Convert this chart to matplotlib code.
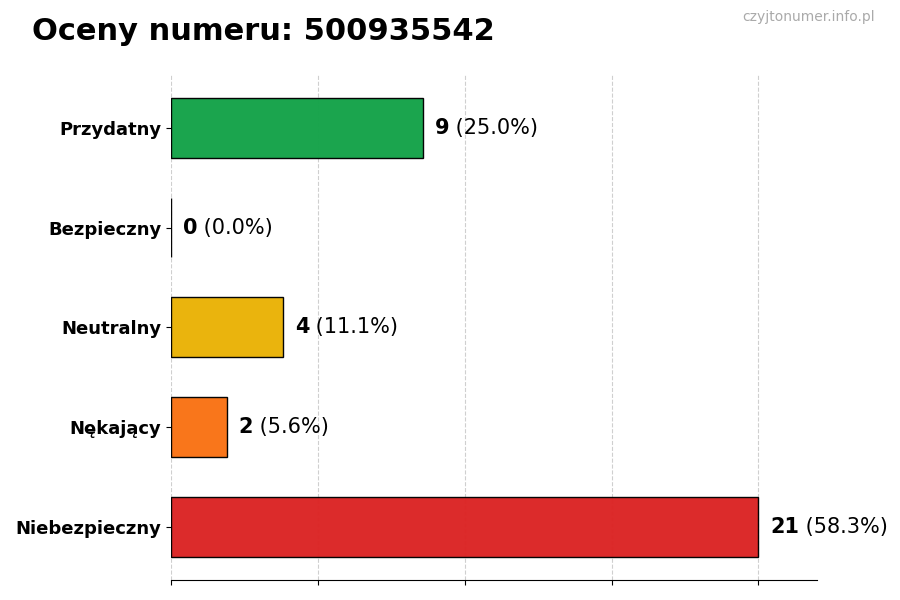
import matplotlib
matplotlib.use("Agg")
import matplotlib.pyplot as plt
import numpy as np

categories = ["Przydatny", "Bezpieczny", "Neutralny", "Nękający", "Niebezpieczny"]
counts = [9, 0, 4, 2, 21]
colors = ["#16a34a", "#15803d", "#eab308", "#f97316", "#dc2626"]
title = "Oceny numeru: 500935542"
watermark = "czyjtonumer.info.pl"

total = sum(counts)
vmax = max(counts)

fig = plt.figure(figsize=(9, 6), dpi=100)
ax = fig.add_axes([0.19, 0.034, 0.718, 0.841])

y = np.arange(len(categories))[::-1]
ax.barh(y, counts, height=0.6, color=colors, edgecolor="black", linewidth=1,
        alpha=0.98, zorder=3)
ax.set_yticks(y)
ax.set_yticklabels(categories, fontsize=13, fontweight="bold")
ax.set_xlim(0, vmax * 1.1)
ax.set_xticks(np.linspace(0, vmax, 5))
ax.set_xticklabels([])
ax.grid(axis="x", linestyle="--", color="#bbbbbb", alpha=0.7, zorder=0)
ax.set_axisbelow(True)
ax.spines["top"].set_visible(False)
ax.spines["right"].set_visible(False)
ax.spines["left"].set_visible(False)

for yi, v in zip(y, counts):
    pct = v / total * 100
    t = ax.text(v + vmax * 0.02, yi, f"{v}", fontsize=15, fontweight="bold",
                va="center", ha="left", zorder=5)
    fig.canvas.draw()
    bb = t.get_window_extent()
    inv = ax.transData.inverted()
    xend = inv.transform((bb.x1, bb.y0))[0]
    ax.text(xend, yi, f" ({pct:.1f}%)", fontsize=15, va="center", ha="left", zorder=5)

fig.text(0.035, 0.947, title, fontsize=22, fontweight="bold", ha="left", va="center")
fig.text(0.972, 0.971, watermark, fontsize=10, color="#aaaaaa", ha="right", va="center")

fig.savefig("out.png", dpi=100)
